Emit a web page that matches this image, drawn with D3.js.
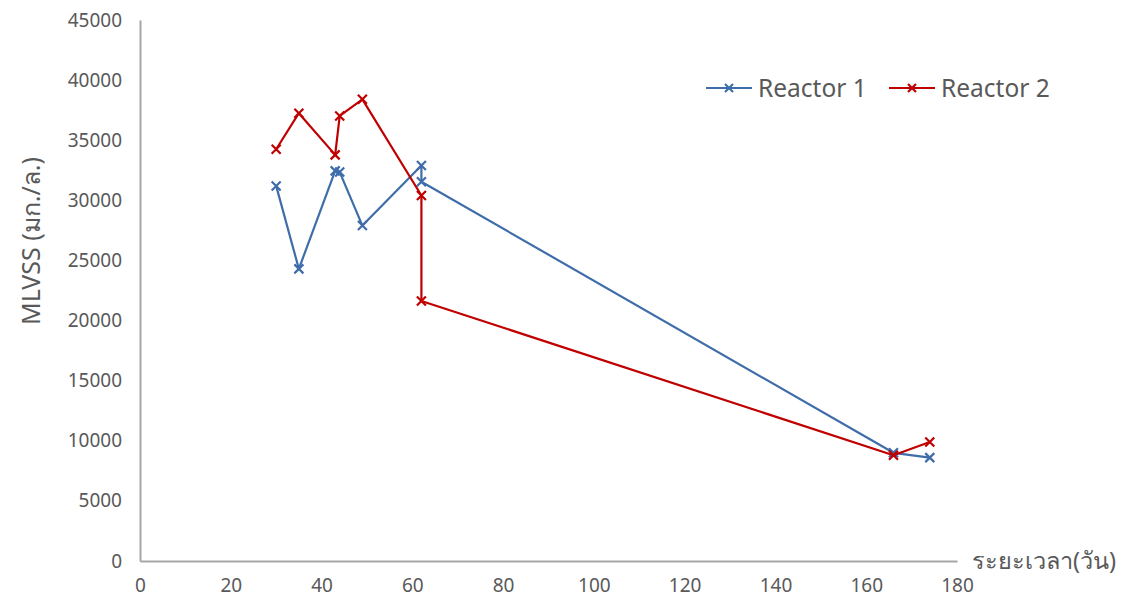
<!DOCTYPE html>
<html>
<head>
<meta charset="utf-8">
<script src="https://cdn.jsdelivr.net/npm/d3@7"></script>
<style>
  html, body { margin: 0; padding: 0; background: #ffffff; }
  svg text { font-family: "Noto Sans", "Open Sans", "DejaVu Sans", sans-serif; fill: #595959; }
</style>
</head>
<body>
<svg id="chart" width="1127" height="599"></svg>
<script>
// Days of operation and MLVSS (mg/L) for each reactor
const days1 = [30, 35, 43, 44, 49, 62, 62, 166, 174];
const mlvss1 = [31200, 24300, 32450, 32350, 27900, 32900, 31550, 9000, 8600];
const days2 = [30, 35, 43, 44, 49, 62, 62, 166, 174];
const mlvss2 = [34250, 37250, 33780, 37020, 38400, 30400, 21630, 8800, 9900];
const seriesNames = ["Reactor 1", "Reactor 2"];
const seriesColors = ["#3F6DAA", "#C00000"];
const xTicks = [0, 20, 40, 60, 80, 100, 120, 140, 160, 180];
const yTicks = [0, 5000, 10000, 15000, 20000, 25000, 30000, 35000, 40000, 45000];
const yTitle = "MLVSS (มก./ล.)";
const xTitle = "ระยะเวลา(วัน)";

const svg = d3.select("#chart");
const plotLeft = 140, plotRight = 957, plotTop = 20, plotBottom = 561;

const x = d3.scaleLinear().domain([0, 180]).range([plotLeft, plotRight]);
const y = d3.scaleLinear().domain([0, 45000]).range([plotBottom, plotTop]);

// Axes: plain grey lines, labels without tick marks
const axisColor = "#A6A6A6";
const xAxis = svg.append("g").attr("transform", `translate(0,${plotBottom})`)
  .call(d3.axisBottom(x).tickValues(xTicks).tickSize(0).tickPadding(18).tickFormat(d3.format("d")));
const yAxis = svg.append("g").attr("transform", `translate(${plotLeft},0)`)
  .call(d3.axisLeft(y).tickValues(yTicks).tickSize(0).tickPadding(18).tickFormat(d3.format("d")));
[xAxis, yAxis].forEach(g => {
  g.select(".domain").attr("stroke", axisColor).attr("stroke-width", 2);
  g.selectAll("text").style("font-size", "19px").attr("fill", "#595959");
});

// Axis titles
svg.append("text")
  .attr("transform", `translate(30,241) rotate(-90)`)
  .attr("text-anchor", "middle")
  .attr("dominant-baseline", "central")
  .style("font-size", "25px")
  .text(yTitle);
svg.append("text")
  .attr("x", 972).attr("y", plotBottom - 1)
  .attr("dominant-baseline", "central")
  .style("font-size", "23.5px")
  .text(xTitle);

// Series lines and x markers
const series = [
  { name: seriesNames[0], color: seriesColors[0], pts: days1.map((d, i) => [d, mlvss1[i]]) },
  { name: seriesNames[1], color: seriesColors[1], pts: days2.map((d, i) => [d, mlvss2[i]]) }
];
const line = d3.line().x(d => x(d[0])).y(d => y(d[1]));
const markerPath = (cx, cy, r) => `M${cx - r},${cy - r}L${cx + r},${cy + r}M${cx - r},${cy + r}L${cx + r},${cy - r}`;

series.forEach(s => {
  const g = svg.append("g");
  g.append("path").datum(s.pts)
    .attr("d", line).attr("fill", "none")
    .attr("stroke", s.color).attr("stroke-width", 2.2)
    .attr("stroke-linejoin", "round");
  g.selectAll("path.mk").data(s.pts).enter().append("path")
    .attr("class", "mk")
    .attr("d", d => markerPath(x(d[0]), y(d[1]), 4.5))
    .attr("stroke", s.color).attr("stroke-width", 2.2).attr("fill", "none");
});

// Legend
const legendItems = [
  { name: seriesNames[0], color: seriesColors[0], x0: 706 },
  { name: seriesNames[1], color: seriesColors[1], x0: 889 }
];
legendItems.forEach(it => {
  const ly = 88;
  const lg = svg.append("g");
  lg.append("line").attr("x1", it.x0).attr("x2", it.x0 + 46).attr("y1", ly).attr("y2", ly)
    .attr("stroke", it.color).attr("stroke-width", 2.2);
  lg.append("path").attr("d", markerPath(it.x0 + 23, ly, 4))
    .attr("stroke", it.color).attr("stroke-width", 2.2).attr("fill", "none");
  lg.append("text").attr("x", it.x0 + 52).attr("y", ly - 1)
    .attr("dominant-baseline", "central")
    .style("font-size", "24.5px")
    .text(it.name);
});
</script>
</body>
</html>
